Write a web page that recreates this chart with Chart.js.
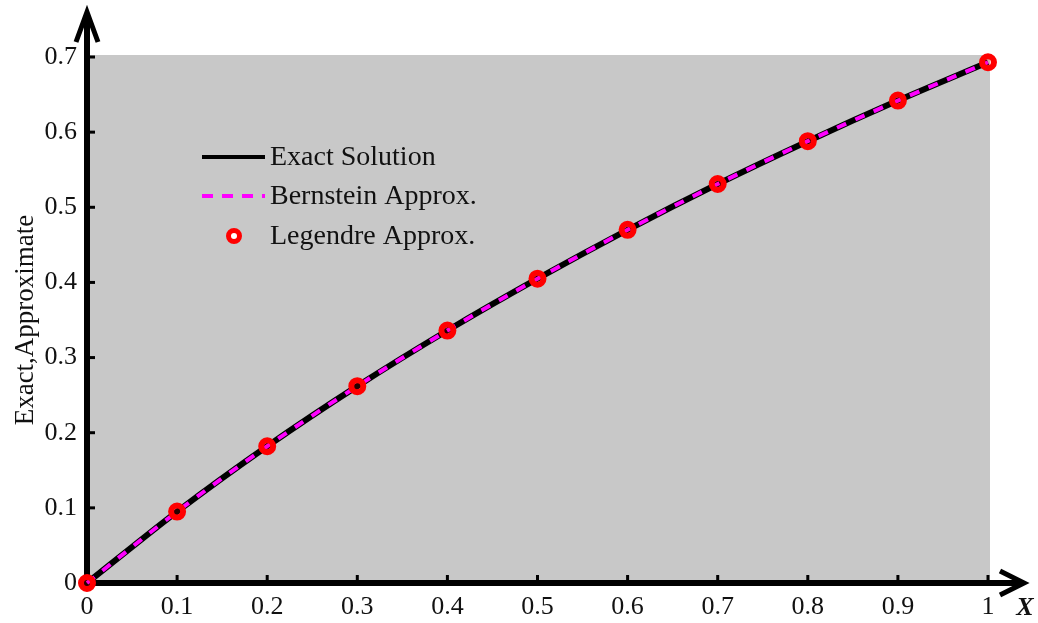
<!DOCTYPE html>
<html>
<head>
<meta charset="utf-8">
<script src="https://cdn.jsdelivr.net/npm/chart.js@4/dist/chart.umd.min.js"></script>
<style>
  html, body { margin: 0; padding: 0; background: #fff; }
  #wrap { width: 1038px; height: 623px; }
</style>
</head>
<body>
<div id="wrap"><canvas id="chart"></canvas></div>
<script>
const xValues = [0, 0.1, 0.2, 0.3, 0.4, 0.5, 0.6, 0.7, 0.8, 0.9, 1];
const exactValues = [0, 0.095, 0.182, 0.262, 0.336, 0.405, 0.470, 0.531, 0.588, 0.642, 0.693];
const bernsteinValues = [0, 0.095, 0.182, 0.262, 0.336, 0.405, 0.470, 0.531, 0.588, 0.642, 0.693];
const legendreValues = [0, 0.095, 0.182, 0.262, 0.336, 0.405, 0.470, 0.531, 0.588, 0.642, 0.693];
const xTicks = [0, 0.1, 0.2, 0.3, 0.4, 0.5, 0.6, 0.7, 0.8, 0.9, 1];
const yTicks = [0, 0.1, 0.2, 0.3, 0.4, 0.5, 0.6, 0.7];

const serif = "'Liberation Serif', 'Times New Roman', serif";

function pts(ys) {
  return xValues.map((x, i) => ({ x: x, y: ys[i] }));
}

// gray plot area, axes with arrows, inward ticks, legend, X label
const decor = {
  id: 'decor',
  beforeDraw(chart) {
    const { ctx, chartArea: a } = chart;
    ctx.save();
    ctx.fillStyle = '#c8c8c8';
    ctx.fillRect(a.left, a.top - 2, a.right - a.left + 2, a.bottom - a.top + 2);
    ctx.restore();
  },
  beforeDatasetsDraw(chart) {
    const { ctx, chartArea: a, scales } = chart;
    ctx.save();
    ctx.strokeStyle = '#000';
    ctx.lineCap = 'butt';
    // inward ticks
    ctx.lineWidth = 3;
    xTicks.forEach(v => {
      const px = scales.x.getPixelForValue(v);
      ctx.beginPath(); ctx.moveTo(px, a.bottom); ctx.lineTo(px, a.bottom - 8); ctx.stroke();
    });
    yTicks.forEach(v => {
      const py = scales.y.getPixelForValue(v);
      ctx.beginPath(); ctx.moveTo(a.left, py); ctx.lineTo(a.left + 8, py); ctx.stroke();
    });
    // axes
    ctx.lineWidth = 6;
    ctx.beginPath();
    ctx.moveTo(a.left, a.bottom + 3);
    ctx.lineTo(a.left, 14);
    ctx.stroke();
    ctx.beginPath();
    ctx.moveTo(a.left - 3, a.bottom);
    ctx.lineTo(1020, a.bottom);
    ctx.stroke();
    // arrowheads
    ctx.lineWidth = 5;
    ctx.lineJoin = 'miter';
    ctx.beginPath();
    ctx.moveTo(a.left - 11, 42); ctx.lineTo(a.left, 12); ctx.lineTo(a.left + 11, 42);
    ctx.stroke();
    ctx.beginPath();
    ctx.moveTo(1000, a.bottom - 12); ctx.lineTo(1024, a.bottom); ctx.lineTo(1000, a.bottom + 12);
    ctx.stroke();
    ctx.restore();
  },
  afterDatasetsDraw(chart) {
    const { ctx } = chart;
    ctx.save();
    // legend
    const lx = 202, ly = [157, 196, 236];
    ctx.lineWidth = 4;
    ctx.strokeStyle = '#000';
    ctx.beginPath(); ctx.moveTo(lx, ly[0]); ctx.lineTo(lx + 63, ly[0]); ctx.stroke();
    ctx.strokeStyle = '#ff00ff';
    ctx.setLineDash([11, 9]);
    ctx.beginPath(); ctx.moveTo(lx, ly[1]); ctx.lineTo(lx + 63, ly[1]); ctx.stroke();
    ctx.setLineDash([]);
    ctx.fillStyle = '#ffffff';
    ctx.strokeStyle = '#ff0000';
    ctx.lineWidth = 5;
    ctx.beginPath(); ctx.arc(lx + 32, ly[2], 5.5, 0, Math.PI * 2); ctx.fill(); ctx.stroke();
    ctx.fillStyle = '#111';
    ctx.font = '28px ' + serif;
    ctx.textBaseline = 'middle';
    ctx.textAlign = 'left';
    const names = chart.data.datasets.map(d => d.label);
    names.forEach((n, i) => ctx.fillText(n, lx + 68, ly[i] + 1));

    // X label
    ctx.font = 'italic bold 26px ' + serif;
    ctx.textAlign = 'center';
    ctx.fillText('X', 1025, 608);
    ctx.restore();
  }
};

new Chart(document.getElementById('chart'), {
  type: 'line',
  data: {
    datasets: [
      {
        label: 'Exact Solution',
        data: pts(exactValues),
        borderColor: '#000',
        borderWidth: 6,
        pointRadius: 0,
        tension: 0.3,
        clip: false,
        order: 3
      },
      {
        label: 'Bernstein Approx.',
        data: pts(bernsteinValues),
        borderColor: '#ff00ff',
        borderWidth: 4,
        borderDash: [10, 10],
        pointRadius: 0,
        tension: 0.3,
        clip: false,
        order: 2
      },
      {
        label: 'Legendre Approx.',
        data: pts(legendreValues),
        showLine: false,
        borderColor: '#ff0000',
        backgroundColor: 'rgba(255,0,0,0.15)',
        borderWidth: 6,
        pointRadius: 6,
        clip: false,
        order: 1
      }
    ]
  },
  options: {
    responsive: true,
    maintainAspectRatio: false,
    animation: false,
    layout: { padding: { left: 0, right: 50, top: 57, bottom: 0 } },
    plugins: {
      legend: { display: false },
      tooltip: { enabled: false }
    },
    scales: {
      x: {
        type: 'linear',
        min: 0,
        max: 1,
        afterFit(s) { s.height = 40; },
        afterBuildTicks(s) { s.ticks = xTicks.map(v => ({ value: v })); },
        grid: { display: false },
        border: { display: false },
        ticks: {
          color: '#111',
          padding: 1,
          font: { family: serif, size: 26 },
          callback: v => String(+v.toFixed(1))
        }
      },
      y: {
        min: 0,
        max: 0.7,
        afterFit(s) { s.width = 87; },
        afterBuildTicks(s) { s.ticks = yTicks.map(v => ({ value: v })); },
        grid: { display: false },
        border: { display: false },
        ticks: {
          color: '#111',
          padding: 2,
          font: { family: serif, size: 26 },
          callback: v => String(+v.toFixed(1))
        },
        title: {
          display: true,
          text: 'Exact,Approximate',
          color: '#111',
          font: { family: serif, size: 27 },
          padding: { top: 10, bottom: 0 }
        }
      }
    }
  },
  plugins: [decor]
});
</script>
</body>
</html>
